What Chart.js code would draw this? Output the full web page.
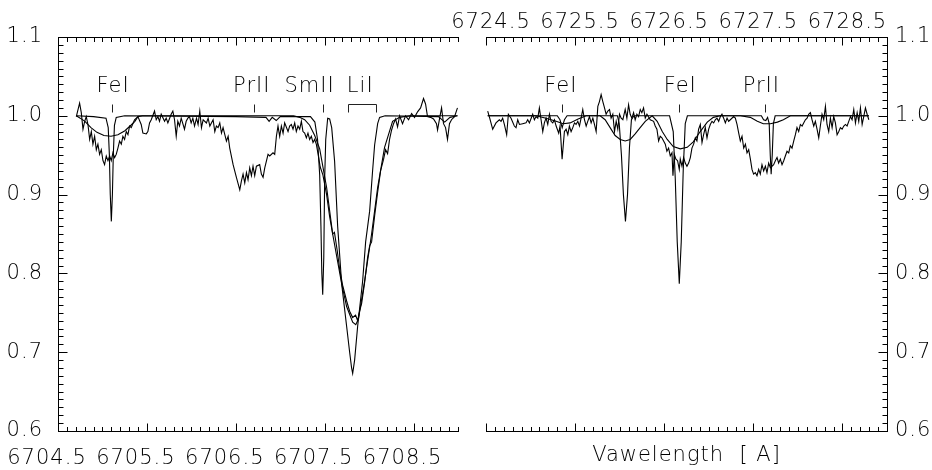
<!DOCTYPE html>
<html>
<head>
<meta charset="utf-8">
<script src="https://cdn.jsdelivr.net/npm/chart.js@4.4.1/dist/chart.umd.min.js"></script>
<style>
  html, body { margin: 0; padding: 0; background: #fff; }
  #wrap { position: relative; width: 932px; height: 470px; overflow: hidden; background: #fff; }
  #cl { position: absolute; left: -40px; top: 0; }
  #cr { position: absolute; left: 420px; top: 0; }
</style>
</head>
<body>
<div id="wrap">
  <canvas id="cl" width="510" height="470"></canvas>
  <canvas id="cr" width="512" height="470"></canvas>
</div>
<script>
// ---------------- DATA ----------------
// Axis tick labels
const leftTickWaves  = [6704.5, 6705.5, 6706.5, 6707.5, 6708.5];
const rightTickWaves = [6724.5, 6725.5, 6726.5, 6727.5, 6728.5];
const fluxTicks      = [0.6, 0.7, 0.8, 0.9, 1.0, 1.1];

// Left panel: observed spectrum
const leftObsWave = [6704.706,6704.743,6704.762,6704.781,6704.800,6704.818,6704.837,6704.856,6704.875,6704.893,6704.912,6704.931,6704.949,6704.968,6704.987,6705.006,6705.024,6705.043,6705.062,6705.081,6705.099,6705.118,6705.137,6705.155,6705.174,6705.193,6705.212,6705.230,6705.249,6705.268,6705.287,6705.305,6705.324,6705.361,6705.399,6705.436,6705.455,6705.493,6705.511,6705.530,6705.549,6705.586,6705.605,6705.624,6705.642,6705.661,6705.699,6705.717,6705.736,6705.773,6705.792,6705.811,6705.830,6705.848,6705.867,6705.886,6705.923,6705.942,6705.961,6705.979,6705.998,6706.017,6706.036,6706.058,6706.076,6706.095,6706.114,6706.133,6706.170,6706.189,6706.208,6706.245,6706.264,6706.282,6706.301,6706.320,6706.339,6706.357,6706.395,6706.414,6706.432,6706.470,6706.507,6706.545,6706.563,6706.582,6706.601,6706.620,6706.638,6706.657,6706.676,6706.694,6706.713,6706.732,6706.769,6706.788,6706.807,6706.826,6706.863,6706.882,6706.919,6706.938,6706.957,6706.975,6706.994,6707.013,6707.032,6707.050,6707.088,6707.106,6707.125,6707.144,6707.163,6707.181,6707.200,6707.219,6707.238,6707.256,6707.275,6707.294,6707.312,6707.331,6707.350,6707.369,6707.387,6707.406,6707.425,6707.450,6707.480,6707.522,6707.556,6707.590,6707.610,6707.640,6707.669,6707.702,6707.747,6707.781,6707.815,6707.848,6707.871,6707.893,6707.916,6707.949,6707.983,6708.006,6708.028,6708.062,6708.096,6708.129,6708.163,6708.185,6708.208,6708.230,6708.253,6708.275,6708.298,6708.320,6708.343,6708.376,6708.410,6708.444,6708.478,6708.511,6708.545,6708.579,6708.612,6708.635,6708.657,6708.691,6708.725,6708.758,6708.770,6708.792,6708.815,6708.837,6708.860,6708.882,6708.904,6708.927,6708.961,6708.994];
const leftObsFlux = [0.999,1.016,1.004,0.983,0.993,0.999,0.989,0.970,0.980,0.964,0.974,0.957,0.964,0.951,0.957,0.943,0.938,0.949,0.943,0.949,0.943,0.953,0.947,0.951,0.959,0.968,0.964,0.974,0.970,0.980,0.976,0.987,0.985,0.995,0.999,0.989,0.978,0.977,0.980,0.991,0.995,1.006,0.995,0.999,0.993,1.002,0.993,0.997,0.991,1.002,1.006,0.995,0.974,0.993,0.987,0.997,0.983,0.993,0.997,0.999,0.991,0.997,0.987,0.997,0.989,1.006,0.985,0.995,0.991,0.997,0.987,0.995,0.980,0.987,0.985,0.991,0.978,0.985,0.968,0.974,0.959,0.938,0.922,0.906,0.917,0.926,0.915,0.928,0.919,0.934,0.924,0.936,0.924,0.936,0.938,0.926,0.922,0.934,0.951,0.949,0.953,0.951,0.974,0.987,0.974,0.987,0.978,0.991,0.980,0.987,0.989,0.983,0.991,0.980,0.987,0.983,0.993,0.980,0.978,0.972,0.978,0.970,0.974,0.966,0.970,0.964,0.952,0.935,0.925,0.900,0.872,0.850,0.852,0.830,0.805,0.785,0.765,0.752,0.744,0.747,0.740,0.752,0.762,0.788,0.820,0.835,0.840,0.873,0.903,0.930,0.945,0.957,0.952,0.970,0.982,0.990,0.996,0.986,1.000,0.990,1.000,0.995,1.003,0.998,1.005,1.010,1.022,1.015,0.999,0.998,0.996,0.990,0.982,0.996,1.010,0.990,0.985,0.970,0.990,0.995,0.999,1.010];

// Left panel: narrow synthetic spectrum
const leftNarrowWave = [6704.706,6704.900,6705.040,6705.065,6705.078,6705.088,6705.100,6705.112,6705.122,6705.135,6705.155,6705.250,6706.500,6706.840,6706.875,6706.910,6706.955,6707.000,6707.340,6707.390,6707.420,6707.444,6707.458,6707.468,6707.478,6707.490,6707.500,6707.512,6707.534,6707.556,6707.579,6707.612,6707.646,6707.691,6707.747,6707.781,6707.803,6707.815,6707.837,6707.871,6707.927,6707.961,6708.006,6708.039,6708.062,6708.096,6708.118,6708.180,6708.780,6708.850,6708.910,6708.994];
const leftNarrowFlux = [1.000,0.999,0.997,0.985,0.950,0.900,0.866,0.900,0.950,0.988,0.998,1.000,0.999,0.998,0.993,0.998,0.994,0.999,0.999,0.992,0.970,0.925,0.860,0.800,0.773,0.820,0.920,0.970,0.997,0.996,0.985,0.942,0.860,0.787,0.733,0.700,0.680,0.673,0.690,0.733,0.790,0.840,0.879,0.930,0.963,0.990,0.998,1.000,0.999,0.992,0.998,1.000];

// Left panel: broadened synthetic spectrum
const leftBroadWave = [6704.706,6704.750,6704.803,6704.871,6704.938,6705.017,6705.096,6705.174,6705.253,6705.320,6705.365,6705.399,6705.450,6707.150,6707.219,6707.275,6707.331,6707.388,6707.444,6707.522,6707.590,6707.691,6707.747,6707.815,6707.850,6707.880,6707.949,6708.028,6708.096,6708.174,6708.264,6708.343,6708.455,6708.994];
const leftBroadFlux = [1.000,0.997,0.993,0.985,0.979,0.975,0.974,0.976,0.981,0.988,0.993,0.999,1.000,1.000,0.998,0.995,0.988,0.975,0.958,0.909,0.850,0.787,0.758,0.738,0.735,0.742,0.790,0.850,0.909,0.960,0.993,0.998,1.000,1.000];

// Right panel: observed spectrum
const rightObsWave = [6724.519,6724.537,6724.575,6724.612,6724.650,6724.669,6724.687,6724.706,6724.732,6724.751,6724.781,6724.818,6724.837,6724.856,6724.875,6724.912,6724.949,6724.968,6724.987,6725.024,6725.043,6725.062,6725.081,6725.099,6725.118,6725.137,6725.155,6725.174,6725.193,6725.212,6725.230,6725.249,6725.268,6725.287,6725.316,6725.331,6725.354,6725.380,6725.399,6725.418,6725.436,6725.455,6725.474,6725.493,6725.511,6725.530,6725.549,6725.567,6725.586,6725.605,6725.624,6725.642,6725.661,6725.680,6725.699,6725.717,6725.736,6725.755,6725.773,6725.792,6725.811,6725.830,6725.848,6725.867,6725.886,6725.904,6725.923,6725.942,6725.961,6725.979,6725.998,6726.017,6726.036,6726.062,6726.081,6726.100,6726.118,6726.137,6726.156,6726.174,6726.193,6726.212,6726.231,6726.249,6726.268,6726.287,6726.306,6726.343,6726.381,6726.399,6726.418,6726.437,6726.455,6726.474,6726.493,6726.512,6726.530,6726.549,6726.568,6726.587,6726.598,6726.613,6726.631,6726.650,6726.669,6726.680,6726.699,6726.718,6726.736,6726.755,6726.774,6726.793,6726.811,6726.830,6726.849,6726.867,6726.886,6726.905,6726.924,6726.942,6726.961,6726.980,6726.999,6727.017,6727.036,6727.055,6727.073,6727.092,6727.111,6727.130,6727.148,6727.167,6727.186,6727.205,6727.223,6727.242,6727.279,6727.298,6727.317,6727.336,6727.354,6727.373,6727.392,6727.411,6727.429,6727.448,6727.467,6727.485,6727.503,6727.522,6727.541,6727.560,6727.578,6727.597,6727.616,6727.635,6727.653,6727.672,6727.691,6727.709,6727.728,6727.747,6727.766,6727.784,6727.803,6727.822,6727.841,6727.859,6727.878,6727.897,6727.915,6727.934,6727.953,6727.972,6727.990,6728.009,6728.028,6728.047,6728.065,6728.084,6728.103,6728.121,6728.140,6728.159,6728.178,6728.196,6728.215,6728.234,6728.252,6728.271,6728.290,6728.309,6728.327,6728.346,6728.365,6728.384,6728.402,6728.421,6728.440,6728.459,6728.477,6728.496,6728.515,6728.534,6728.552,6728.571,6728.590,6728.608,6728.627,6728.646,6728.665,6728.683,6728.702,6728.721,6728.739,6728.758,6728.777,6728.796];
const rightObsFlux = [1.006,0.999,0.983,0.991,0.995,0.993,0.997,0.989,0.976,1.002,0.997,0.987,0.985,0.995,0.989,0.990,0.991,0.995,0.991,1.002,0.995,0.999,0.997,1.010,0.995,0.980,0.991,0.997,0.989,1.002,0.993,0.991,0.995,0.987,0.978,0.987,0.945,0.980,0.983,0.976,0.987,0.980,0.985,0.991,0.989,0.993,0.987,0.997,1.008,0.995,0.987,0.993,0.999,0.991,0.997,0.989,0.980,1.012,1.018,1.027,1.018,1.010,1.002,1.006,1.008,0.997,1.002,0.980,0.993,0.983,1.002,0.997,0.995,1.008,0.997,1.014,1.002,0.997,1.004,0.995,1.002,0.999,1.008,1.004,1.010,0.997,1.002,0.995,0.993,0.987,0.983,0.968,0.974,0.972,0.968,0.964,0.955,0.959,0.949,0.953,0.924,0.951,0.945,0.943,0.932,0.945,0.936,0.947,0.940,0.936,0.940,0.947,0.959,0.964,0.972,0.968,0.983,0.989,0.966,0.976,0.985,0.972,0.983,0.989,0.993,0.991,0.995,0.997,0.993,0.999,1.002,0.997,0.991,0.997,0.993,0.995,0.999,0.997,0.989,0.978,0.968,0.974,0.959,0.964,0.953,0.957,0.945,0.932,0.926,0.928,0.924,0.932,0.926,0.938,0.930,0.936,0.928,0.940,0.934,0.936,0.938,0.943,0.947,0.940,0.945,0.938,0.943,0.949,0.955,0.953,0.962,0.959,0.968,0.976,0.985,0.980,0.989,0.987,0.991,0.995,0.997,1.002,1.004,0.995,0.987,0.993,0.983,0.972,0.987,1.002,0.995,1.012,0.989,0.980,0.997,0.985,0.999,0.991,0.976,0.980,0.985,0.983,0.987,0.989,0.987,0.993,0.999,0.995,1.008,0.991,1.004,0.993,1.010,0.989,0.999,1.010,1.002,0.995];

// Right panel: narrow synthetic spectrum
const rightNarrowWave = [6724.519,6725.300,6725.330,6725.355,6725.380,6725.410,6725.975,6725.995,6726.020,6726.042,6726.065,6726.088,6726.110,6726.132,6726.160,6726.560,6726.601,6726.624,6726.646,6726.669,6726.691,6726.713,6726.736,6726.760,6727.590,6727.615,6727.640,6727.660,6727.678,6727.690,6727.700,6727.712,6727.725,6727.745,6728.796];
const rightNarrowFlux = [1.000,1.000,0.995,0.985,0.995,1.000,1.000,0.990,0.950,0.900,0.866,0.900,0.960,0.995,1.000,1.000,0.980,0.920,0.840,0.787,0.840,0.930,0.990,1.000,1.000,0.995,0.994,0.998,0.990,0.950,0.926,0.950,0.990,1.000,1.000];

// Right panel: broadened synthetic spectrum
const rightBroadWave = [6724.519,6725.062,6725.174,6725.287,6725.365,6725.444,6725.534,6725.624,6725.781,6725.837,6725.893,6725.949,6726.006,6726.062,6726.118,6726.174,6726.230,6726.287,6726.365,6726.421,6726.478,6726.534,6726.601,6726.680,6726.758,6726.826,6726.904,6726.983,6727.051,6727.129,6727.354,6727.466,6727.545,6727.612,6727.691,6727.770,6727.837,6727.916,6728.796];
const rightBroadFlux = [1.000,1.000,0.997,0.993,0.990,0.991,0.996,1.000,1.000,0.995,0.985,0.975,0.970,0.968,0.970,0.977,0.985,0.993,1.000,0.993,0.980,0.970,0.961,0.958,0.960,0.967,0.980,0.992,0.998,1.000,1.000,0.998,0.993,0.990,0.990,0.992,0.995,1.000,1.000];

// Line identifications
const leftLineNames  = ['FeI', 'PrII', 'SmII'];
const leftLineWaves  = [6705.107, 6706.702, 6707.478];
const leftLabelWaves = [6705.12, 6706.68, 6707.33];
const liName = 'LiI';
const liBracketWaves = [6707.758, 6708.083];
const liLabelWave = 6707.90;
const rightLineNames  = ['FeI', 'FeI', 'PrII'];
const rightLineWaves  = [6725.353, 6726.666, 6727.631];
const rightLabelWaves = [6725.34, 6726.68, 6727.59];

const xTitle = 'Vawelength  [ A]';

// ---------------- RENDERING ----------------
const FONT = { family: 'DejaVu Sans', size: 21, weight: 200 };
const SPACING = '1px';
const TXT = '#000';
const pts = (w, f) => w.map((x, i) => ({ x: x, y: f[i] }));
const lineDs = (w, f) => ({ data: pts(w, f), borderColor: '#000', borderWidth: 1.1,
  pointRadius: 0, showLine: true, tension: 0, fill: false });

const spacingPlugin = {
  id: 'spacing',
  beforeDraw(chart) { chart.ctx.letterSpacing = SPACING; }
};

const frameTicks = {
  id: 'frameTicks',
  afterDraw(chart, args, o) {
    const ctx = chart.ctx, a = chart.chartArea;
    const xs = chart.scales.x, ys = chart.scales.y;
    const L = Math.round(a.left) + 0.5, R = Math.round(a.right) + 0.5;
    const T = Math.round(a.top) + 0.5, B = Math.round(a.bottom) + 0.5;
    ctx.save();
    ctx.strokeStyle = '#000'; ctx.lineWidth = 1;
    ctx.beginPath();
    ctx.moveTo(L - 0.5, T); ctx.lineTo(R + 0.5, T);
    ctx.moveTo(L - 0.5, B); ctx.lineTo(R + 0.5, B);
    const vx = o.side === 'left' ? L : R;
    ctx.moveTo(vx, T); ctx.lineTo(vx, B);
    const n = Math.round((xs.max - xs.min) / 0.1);
    for (let i = 0; i <= n; i++) {
      const px = Math.round(xs.getPixelForValue(xs.min + i * 0.1)) + 0.5;
      const len = i % 10 === 0 ? 8 : 4.5;
      ctx.moveTo(px, T); ctx.lineTo(px, T + len);
      ctx.moveTo(px, B); ctx.lineTo(px, B - len);
    }
    const m = Math.round((ys.max - ys.min) / 0.01);
    for (let j = 0; j <= m; j++) {
      const py = Math.round(ys.getPixelForValue(ys.min + j * 0.01)) + 0.5;
      const len = j % 10 === 0 ? 9 : 5;
      if (o.side === 'left') { ctx.moveTo(L, py); ctx.lineTo(L + len, py); }
      else { ctx.moveTo(R, py); ctx.lineTo(R - len, py); }
    }
    ctx.stroke();
    ctx.restore();
  }
};

const lineMarks = {
  id: 'lineMarks',
  afterDraw(chart, args, o) {
    const ctx = chart.ctx, xs = chart.scales.x, ys = chart.scales.y;
    const yText = ys.getPixelForValue(1.037);
    const yTop = Math.round(ys.getPixelForValue(1.015)) + 0.5;
    const yBot = Math.round(ys.getPixelForValue(1.005)) + 0.5;
    ctx.save();
    ctx.letterSpacing = SPACING;
    ctx.font = `${FONT.weight} ${FONT.size}px "${FONT.family}"`;
    ctx.fillStyle = TXT; ctx.textAlign = 'center'; ctx.textBaseline = 'middle';
    ctx.strokeStyle = '#222'; ctx.lineWidth = 1;
    ctx.beginPath();
    o.names.forEach((nm, i) => {
      ctx.fillText(nm, xs.getPixelForValue(o.labelWaves[i]), yText);
      const px = Math.round(xs.getPixelForValue(o.waves[i])) + 0.5;
      ctx.moveTo(px, yTop); ctx.lineTo(px, yBot);
    });
    if (o.bracket) {
      const p1 = Math.round(xs.getPixelForValue(o.bracket[0])) + 0.5;
      const p2 = Math.round(xs.getPixelForValue(o.bracket[1])) + 0.5;
      ctx.moveTo(p1, yBot); ctx.lineTo(p1, yTop); ctx.lineTo(p2, yTop); ctx.lineTo(p2, yBot);
      ctx.fillText(o.bracketName, xs.getPixelForValue(o.bracketLabel), yText);
    }
    ctx.stroke();
    ctx.restore();
  }
};

const setTicks = (arr) => (s) => { s.ticks = arr.map(v => ({ value: v })); };
const noGrid = { display: false, drawTicks: false };

// Left chart (canvas starts 40px left of the page edge)
new Chart(document.getElementById('cl'), {
  type: 'scatter',
  data: { datasets: [
    lineDs(leftObsWave, leftObsFlux),
    lineDs(leftNarrowWave, leftNarrowFlux),
    lineDs(leftBroadWave, leftBroadFlux)
  ] },
  options: {
    responsive: false, animation: false, devicePixelRatio: 1,
    layout: { padding: { top: 37, right: 12, left: 0, bottom: 0 } },
    plugins: { legend: { display: false }, tooltip: { enabled: false },
      frameTicks: { side: 'left' },
      lineMarks: { names: leftLineNames, waves: leftLineWaves, labelWaves: leftLabelWaves,
        bracket: liBracketWaves, bracketName: liName, bracketLabel: liLabelWave } },
    scales: {
      x: { type: 'linear', position: 'bottom', min: 6704.5, max: 6709.0,
        afterBuildTicks: setTicks(leftTickWaves),
        afterFit: (s) => { s.height = 39; },
        grid: noGrid, border: { display: false },
        ticks: { callback: v => v.toFixed(1), font: FONT, color: TXT, padding: 15,
          labelOffset: -11, maxRotation: 0, autoSkip: false } },
      y: { type: 'linear', position: 'left', min: 0.6, max: 1.1,
        afterBuildTicks: setTicks(fluxTicks),
        afterFit: (s) => { s.width = 98; },
        grid: noGrid, border: { display: false },
        ticks: { callback: v => v.toFixed(1), font: FONT, color: TXT, padding: 15 } }
    }
  },
  plugins: [spacingPlugin, frameTicks, lineMarks]
});

// Right chart
new Chart(document.getElementById('cr'), {
  type: 'scatter',
  data: { datasets: [
    lineDs(rightObsWave, rightObsFlux),
    lineDs(rightNarrowWave, rightNarrowFlux),
    lineDs(rightBroadWave, rightBroadFlux)
  ] },
  options: {
    responsive: false, animation: false, devicePixelRatio: 1,
    layout: { padding: { top: 0, right: 0, left: 66, bottom: 0 } },
    plugins: { legend: { display: false }, tooltip: { enabled: false },
      frameTicks: { side: 'right' },
      lineMarks: { names: rightLineNames, waves: rightLineWaves, labelWaves: rightLabelWaves } },
    scales: {
      x: { type: 'linear', position: 'top', min: 6724.5, max: 6729.0,
        afterBuildTicks: setTicks(rightTickWaves),
        afterFit: (s) => { s.height = 37; },
        grid: noGrid, border: { display: false },
        ticks: { callback: v => v.toFixed(1), font: FONT, color: TXT, padding: 2,
          labelOffset: 5, maxRotation: 0, autoSkip: false } },
      xb: { type: 'linear', position: 'bottom', min: 6724.5, max: 6729.0,
        afterFit: (s) => { s.height = 39; },
        grid: noGrid, border: { display: false },
        ticks: { display: false },
        title: { display: true, text: xTitle, font: FONT, color: TXT, padding: { top: 0, bottom: 2 } } },
      y: { type: 'linear', position: 'right', min: 0.6, max: 1.1,
        afterBuildTicks: setTicks(fluxTicks),
        afterFit: (s) => { s.width = 45; },
        grid: noGrid, border: { display: false },
        ticks: { callback: v => v.toFixed(1), font: FONT, color: TXT, padding: 8 } }
    }
  },
  plugins: [spacingPlugin, frameTicks, lineMarks]
});
</script>
</body>
</html>
